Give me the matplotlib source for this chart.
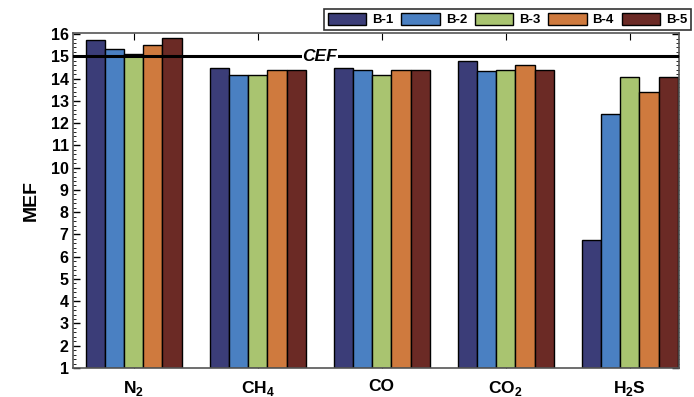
import numpy as np
import matplotlib as mpl
import matplotlib.pyplot as plt
from matplotlib.ticker import MultipleLocator

mpl.use('Agg')
mpl.rcParams['font.family'] = 'Liberation Sans'
mpl.rcParams['font.weight'] = 'bold'
mpl.rcParams['mathtext.fontset'] = 'custom'
mpl.rcParams['mathtext.rm'] = 'Liberation Sans:bold'
mpl.rcParams['mathtext.bf'] = 'Liberation Sans:bold'

# data
gases = [r'N$_2$', r'CH$_4$', 'CO', r'CO$_2$', r'H$_2$S']
series = ['B-1', 'B-2', 'B-3', 'B-4', 'B-5']
b1 = [15.72, 14.48, 14.48, 14.78, 6.75]
b2 = [15.33, 14.15, 14.40, 14.32, 12.40]
b3 = [15.10, 14.15, 14.15, 14.40, 14.05]
b4 = [15.52, 14.40, 14.40, 14.60, 13.38]
b5 = [15.82, 14.40, 14.40, 14.40, 14.05]
cef = 15.0
yticks = list(range(1, 17))

colors = ['#3b3d78', '#4a80c2', '#a9c470', '#cf7a3e', '#6b2a25']

fig = plt.figure(figsize=(6.94, 3.97), dpi=100)
ax = fig.add_axes([0.105, 0.073, 0.873, 0.844])

x = np.arange(len(gases))
w = 0.155
for i, (vals, lab) in enumerate(zip([b1, b2, b3, b4, b5], series)):
    ax.bar(x + (i - 2) * w, np.array(vals) - 1, w, bottom=1, color=colors[i],
           edgecolor='black', linewidth=1.0, label=lab, zorder=2)

ax.axhline(cef, color='black', linewidth=2.2, zorder=3)
ax.text(1.5, cef, 'CEF', ha='center', va='center', fontsize=12.5,
        fontstyle='italic', fontweight='bold', zorder=4,
        bbox=dict(facecolor='white', edgecolor='none', pad=0.5))

ax.set_xlim(-0.49, 4.395)
ax.set_ylim(1, 16.05)
ax.set_xticks(x)
ax.set_xticklabels(gases, fontsize=12.5, fontweight='bold')
ax.set_yticks(yticks)
ax.set_yticklabels([str(v) for v in yticks], fontsize=11.5, fontweight='bold')
ax.yaxis.set_minor_locator(MultipleLocator(0.2))
ax.tick_params(axis='y', which='major', direction='in', length=5, right=True,
               width=1, pad=3)
ax.tick_params(axis='y', which='minor', direction='in', length=2.5, right=True)
ax.tick_params(axis='x', direction='in', length=5, top=True, pad=8)
ax.set_ylabel('MEF', fontsize=14, fontweight='bold', labelpad=8)
for s in ax.spines.values():
    s.set_color('#555555')
    s.set_linewidth(1.2)

leg = fig.legend(loc='upper right', bbox_to_anchor=(0.996, 0.978), ncol=5,
                 fontsize=9.5, frameon=True, fancybox=False, edgecolor='black',
                 handlelength=2.9, handleheight=1.0, handletextpad=0.45,
                 columnspacing=0.6, borderpad=0.3, borderaxespad=0)
leg.get_frame().set_linewidth(1.2)
for t in leg.get_texts():
    t.set_fontweight('bold')

fig.savefig('out.png', dpi=100)
